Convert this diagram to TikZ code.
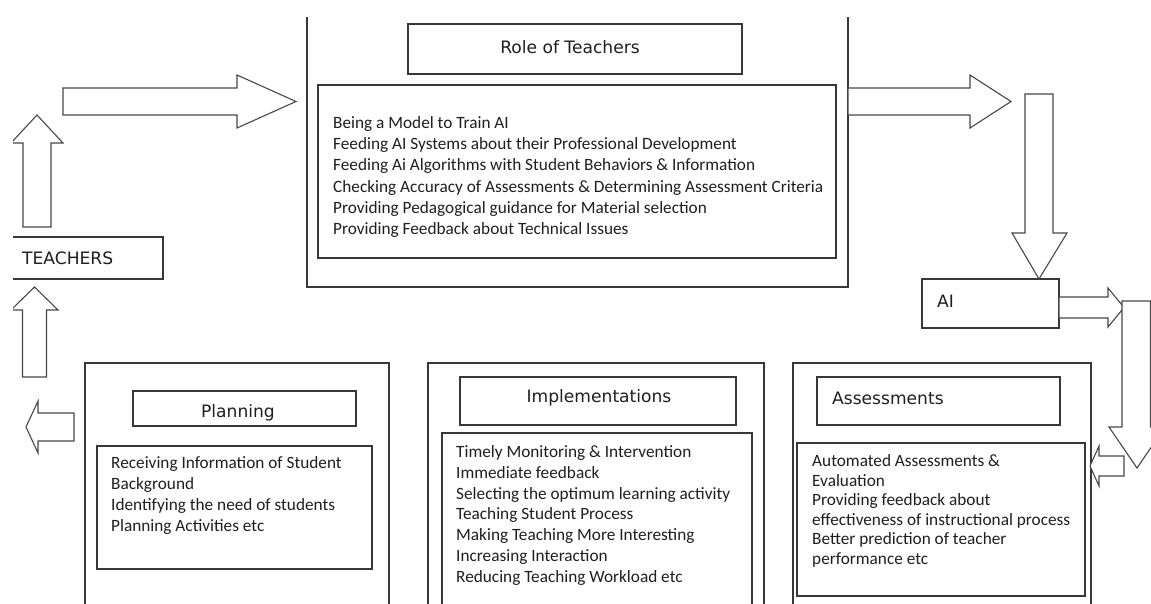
\documentclass[tikz,border=0pt]{standalone}
\usepackage{fontspec}
\setmainfont{Carlito}
\newfontfamily\headfont{DejaVu Sans}
\tikzset{
  box/.style={draw=black!78, line width=1.2pt},
  blk/.style={draw=black!72, line width=1.1pt, fill=white, line join=miter},
  body/.style={font=\fontsize{17.25}{21}\selectfont, inner sep=0pt, text=black!88},
  head/.style={font=\headfont\fontsize{17.1}{20}\selectfont, inner sep=0pt, text=black!88},
}
\begin{document}
\begin{tikzpicture}[x=1pt,y=-1pt]
\useasboundingbox (0,0) rectangle (1151,603);
\fill[white] (0,0) rectangle (1151,603);
\clip (13,0) rectangle (1151,603);

% ---------- Role of Teachers ----------
\draw[box] (307,17) -- (307,287) -- (848,287) -- (848,17);
\draw[box] (408,24) rectangle (742,74);
\node[head, anchor=base] (roletitle) at (570,53) {Role of Teachers};
\draw[box] (318,85) rectangle (836,258);
\foreach \t [count=\i] in {
  {Being a Model to Train AI},
  {Feeding AI Systems about their Professional Development},
  {Feeding Ai Algorithms with Student Behaviors \& Information},
  {Checking Accuracy of Assessments \& Determining Assessment Criteria},
  {Providing Pedagogical guidance for Material selection},
  {Providing Feedback about Technical Issues}}
  \node[body, anchor=base west, name=role\i] at (333,{128.5+(\i-1)*21.2}) {\t};

% ---------- TEACHERS ----------
\draw[box] (5,237) rectangle (163,279);
\node[head, anchor=base west] (teachers) at (22,264) {TEACHERS};

% ---------- AI ----------
\draw[box] (922,279) rectangle (1059,328);
\node[head, anchor=base west] (ai) at (937,307) {AI};

% ---------- Planning ----------
\draw[box] (85,363) rectangle (389,620);
\draw[box] (133,391) rectangle (356,426);
\node[head, anchor=base] (plantitle) at (238,417) {Planning};
\draw[box] (97,446) rectangle (372,569);
\foreach \t [count=\i] in {
  {Receiving Information of Student},
  {Background},
  {Identifying the need of students},
  {Planning Activities etc}}
  \node[body, anchor=base west, name=plan\i] at (111,{468.5+(\i-1)*21}) {\t};

% ---------- Implementations ----------
\draw[box] (428,363) rectangle (764,620);
\draw[box] (460,377) rectangle (736,425);
\node[head, anchor=base] (impltitle) at (599,402) {Implementations};
\draw[box] (442,433) rectangle (752,620);
\foreach \t [count=\i] in {
  {Timely Monitoring \& Intervention},
  {Immediate feedback},
  {Selecting the optimum learning activity},
  {Teaching Student Process},
  {Making Teaching More Interesting},
  {Increasing Interaction},
  {Reducing Teaching Workload etc}}
  \node[body, anchor=base west, name=impl\i] at (456,{457.5+(\i-1)*20.8}) {\t};

% ---------- Assessments ----------
\draw[box] (793,363) rectangle (1091,620);
\draw[box] (817,377) rectangle (1060,425);
\node[head, anchor=base west] (asstitle) at (832,404) {Assessments};
\draw[box] (797,443) rectangle (1085,596);
\foreach \t [count=\i] in {
  {Automated Assessments \&},
  {Evaluation},
  {Providing feedback about},
  {effectiveness of instructional process},
  {Better prediction of teacher},
  {performance etc}}
  \node[body, anchor=base west, name=ass\i] at (812,{466.5+(\i-1)*19.6}) {\t};

% ---------- block arrows ----------
% TEACHERS -> Role of Teachers (big right arrow)
\draw[blk] (63,88) -- (237,88) -- (237,75) -- (296,101.5) -- (237,128) -- (237,115) -- (63,115) -- cycle;
% up arrow above TEACHERS
\draw[blk] (23,227) -- (23,143) -- (11,143) -- (37,115) -- (63,143) -- (51,143) -- (51,227) -- cycle;
% up arrow below TEACHERS
\draw[blk] (22.5,377) -- (22.5,310) -- (11,310) -- (34.5,287) -- (58,310) -- (46.5,310) -- (46.5,377) -- cycle;
% left arrow from Planning
\draw[blk] (74,413) -- (38,413) -- (38,401) -- (26,427) -- (38,453) -- (38,441) -- (74,441) -- cycle;
% Role -> right
\draw[blk] (848,88) -- (970,88) -- (970,75) -- (1011,101.5) -- (970,128) -- (970,115) -- (848,115) -- cycle;
% down to AI
\draw[blk] (1025,94) -- (1053,94) -- (1053,233) -- (1067,233) -- (1039,279) -- (1012,233) -- (1025,233) -- cycle;
% AI -> right
\draw[blk] (1059,297) -- (1108,297) -- (1108,288) -- (1124,307.5) -- (1108,327) -- (1108,318) -- (1059,318) -- cycle;
% big down arrow at right edge
\draw[blk] (1122,301) -- (1150.5,301) -- (1150.5,427) -- (1165,427) -- (1137,468) -- (1109,427) -- (1122,427) -- cycle;
% small left arrow into Assessments
\draw[blk] (1124,456) -- (1099,456) -- (1099,446) -- (1090,466) -- (1099,486) -- (1099,476) -- (1124,476) -- cycle;
\end{tikzpicture}
\end{document}
